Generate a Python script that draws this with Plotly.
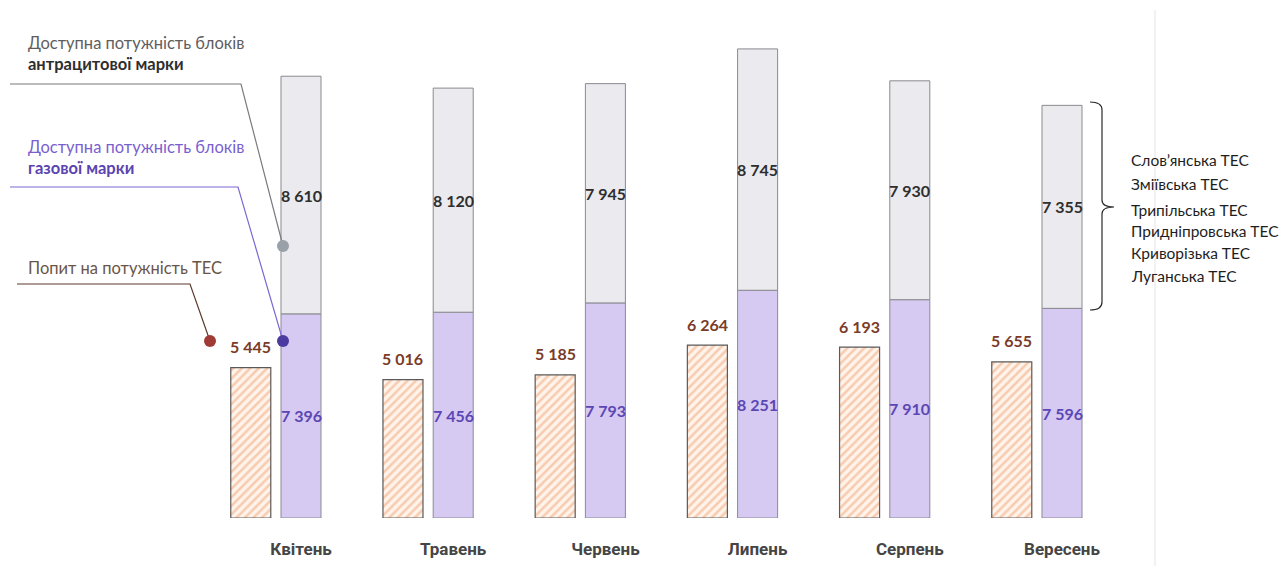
import plotly.graph_objects as go

months = ["Квітень", "Травень", "Червень", "Липень", "Серпень", "Вересень"]
demand = [5445, 5016, 5185, 6264, 6193, 5655]
gas_units = [7396, 7456, 7793, 8251, 7910, 7596]
anthracite_units = [8610, 8120, 7945, 8745, 7930, 7355]
plants = ["Слов’янська ТЕС", "Зміївська ТЕС", "Трипільська ТЕС",
          "Придніпровська ТЕС", "Криворізька ТЕС", "Луганська ТЕС"]

# the page body adds an 8px offset; work in reference pixel coordinates
OFF = 8
W, H = 1288 - OFF, 566 - OFF
BASE_Y = 518                    # baseline in reference pixels
MB = 566 - BASE_Y               # bottom margin
PLOT_H = H - MB
BAR_W = 0.263
DEM_SHIFT = 0.33
PX_PER_UNIT = 0.0276
YMAX = PLOT_H / PX_PER_UNIT
CAT_PX = 152.2
X0 = -(301 - OFF) / CAT_PX
X1 = X0 + W / CAT_PX

FONT = "Lato"

def px(x):
    return (x - OFF) / W

def py(y):
    return (BASE_Y - y) / PLOT_H

fig = go.Figure()

fig.add_trace(go.Bar(
    x=months, y=demand, width=BAR_W, offset=-DEM_SHIFT - BAR_W / 2,
    marker=dict(color="#fff4ec",
                pattern=dict(shape="/", fgcolor="#f0a272", bgcolor="#fff4ec",
                             size=6, solidity=0.42),
                line=dict(color="#5a5a5a", width=1.2)),
    name="Попит на потужність ТЕС", showlegend=False, hoverinfo="skip"))

fig.add_trace(go.Bar(
    x=months, y=gas_units, width=BAR_W, offset=-BAR_W / 2,
    marker=dict(color="#d6c9f2", line=dict(color="#8a8a96", width=1)),
    name="газової марки", showlegend=False, hoverinfo="skip"))

fig.add_trace(go.Bar(
    x=months, y=anthracite_units, base=gas_units, width=BAR_W, offset=-BAR_W / 2,
    marker=dict(color="#ebeaef", line=dict(color="#8a8a8e", width=1)),
    name="антрацитової марки", showlegend=False, hoverinfo="skip"))

def fmt(v):
    return f"{v:,}".replace(",", " ")

annotations = []
for i, m in enumerate(months):
    annotations.append(dict(
        x=i - DEM_SHIFT, y=demand[i], xref="x", yref="y", yshift=21,
        text=fmt(demand[i]), showarrow=False,
        font=dict(family=FONT, size=16, color="#7a3b28", weight="bold")))
    annotations.append(dict(
        x=i, y=gas_units[i] / 2, xref="x", yref="y",
        text=fmt(gas_units[i]), showarrow=False,
        font=dict(family=FONT, size=16, color="#5b47b4", weight="bold")))
    annotations.append(dict(
        x=i, y=gas_units[i] + anthracite_units[i] / 2, xref="x", yref="y",
        text=fmt(anthracite_units[i]), showarrow=False,
        font=dict(family=FONT, size=16, color="#2e2e2e", weight="bold")))

def left_text(y, text, color, bold=False):
    annotations.append(dict(
        x=px(26), y=py(y), xref="paper", yref="paper", xanchor="left", yanchor="middle",
        text=text, showarrow=False,
        font=dict(family=FONT, size=16.5, color=color, weight="bold" if bold else "normal")))

left_text(43, "Доступна потужність блоків", "#5e5e5e")
left_text(64, "антрацитової марки", "#2e2e2e", True)
left_text(147, "Доступна потужність блоків", "#7a5fd0")
left_text(168, "газової марки", "#5a44b0", True)
left_text(268, "Попит на потужність ТЕС", "#6a5548")

plant_y = [160, 184, 210, 231, 253, 276]
for t, yy in zip(plants, plant_y):
    annotations.append(dict(
        x=px(1129), y=py(yy), xref="paper", yref="paper", xanchor="left", yanchor="middle",
        text=t, showarrow=False, font=dict(family=FONT, size=15.5, color="#1e1e1e")))

shapes = []
def seg(pts, color, width=1.2):
    path = "M " + " L ".join(f"{px(x)},{py(y)}" for x, y in pts)
    shapes.append(dict(type="path", path=path, xref="paper", yref="paper",
                       line=dict(color=color, width=width)))

def dot(x, y, color, r=6):
    shapes.append(dict(type="circle", xref="paper", yref="paper",
                       x0=px(x - r), x1=px(x + r), y0=py(y + r), y1=py(y - r),
                       fillcolor=color, line=dict(color=color, width=0)))

seg([(10, 84), (241, 84), (283, 246)], "#7a7a80")
seg([(10, 187), (238, 187), (283, 341)], "#7d68d4")
seg([(17, 284), (190, 284), (210, 341)], "#5a3a2c")
dot(283, 246, "#9aa0a8")
dot(283, 341, "#4b3aa0")
dot(210, 341, "#a03a34")

shapes.append(dict(type="path", xref="paper", yref="paper",
                   path=(f"M {px(1090)},{py(102)} Q {px(1102)},{py(102)} {px(1102)},{py(110)} "
                         f"L {px(1102)},{py(200)} Q {px(1102)},{py(207)} {px(1114)},{py(207)} "
                         f"Q {px(1102)},{py(207)} {px(1102)},{py(214)} "
                         f"L {px(1102)},{py(302)} Q {px(1102)},{py(310)} {px(1090)},{py(310)}"),
                   line=dict(color="#2a2a2a", width=1.2)))

shapes.append(dict(type="line", xref="paper", yref="paper",
                   x0=px(1155), x1=px(1155), y0=py(10), y1=py(566),
                   line=dict(color="#e4e4e8", width=1), layer="below"))

fig.update_layout(
    width=W, height=H,
    margin=dict(l=0, r=0, t=0, b=MB),
    paper_bgcolor="white", plot_bgcolor="white",
    barmode="overlay",
    showlegend=False,
    annotations=annotations,
    shapes=shapes,
    xaxis=dict(range=[X0, X1], showgrid=False, zeroline=False, showline=False,
               ticks="outside", ticklen=16, tickcolor="rgba(0,0,0,0)",
               tickfont=dict(family="Roboto", size=17, color="#454545", weight="bold"),
               fixedrange=True),
    yaxis=dict(range=[0, YMAX], visible=False, fixedrange=True),
)

fig.write_html("out.html")
